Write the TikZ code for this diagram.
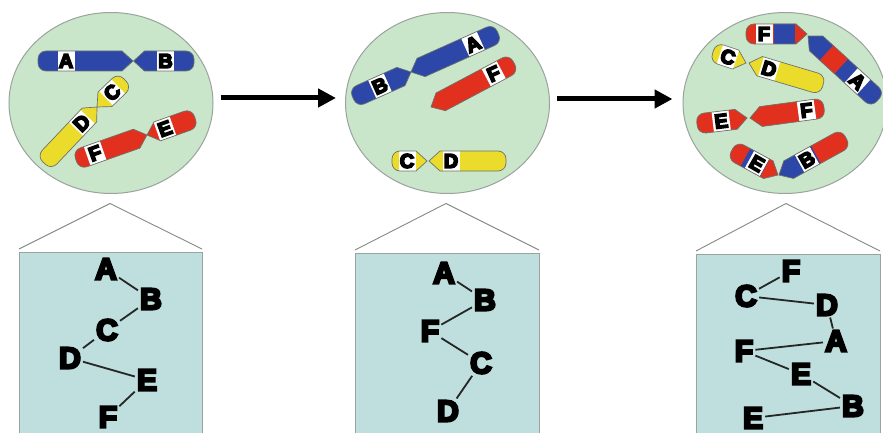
\documentclass[tikz,border=0pt]{standalone}
\usepackage{fontspec}
\usetikzlibrary{shapes.geometric,arrows.meta}
\newfontfamily\heavy[FakeBold=8]{Liberation Sans Bold}
\definecolor{cellgreen}{HTML}{C9E6CB}
\definecolor{panelteal}{HTML}{BEDFDD}
\definecolor{rimgray}{HTML}{9AA39C}
\definecolor{chromblue}{HTML}{2C47A8}
\definecolor{chromred}{HTML}{E2301F}
\definecolor{chromyellow}{HTML}{EBDC2B}
\newcounter{armno}
\tikzset{
  cell/.style={ellipse,draw=rimgray,fill=cellgreen,line width=1pt,minimum width=204pt,minimum height=181pt,inner sep=0pt},
  panel/.style={draw=rimgray,fill=panelteal,line width=1pt},
  roof/.style={draw=rimgray!85!black,line width=.9pt},
  gene/.style={font=\heavy\fontsize{30}{30}\selectfont,text=black,inner sep=2pt},
  link/.style={draw=black!85,line width=1.8pt},
  armlabel/.style={font=\heavy\fontsize{20}{20}\selectfont,text=black,inner sep=0pt},
  moved/.style={-{Triangle[length=18pt,width=18pt]},line width=5pt,black}
}
% One chromosome arm: centromere tip, far end, colour, colour bands,
% distance of the label from the tip, letter, letter rotation.
\def\chromarm(#1,#2)(#3,#4)#5#6#7#8#9{%
  \stepcounter{armno}%
  \pgfmathsetmacro\armang{atan2(-(#4-#2),#3-#1)}%
  \pgfmathsetmacro\armlen{veclen(#3-#1,#4-#2)}%
  \begin{scope}[shift={(#1,#2)},rotate=\armang]
    \def\armoutline{(0,0) -- (11,10) [rounded corners=8pt] -- (\armlen,10) -- (\armlen,-10) [sharp corners] -- (11,-10) -- cycle}
    \fill[#5] \armoutline;
    \begin{scope}
      \clip \armoutline;
      \foreach \sa/\sb/\bandcol in {#6}{\fill[\bandcol] (\sa,-11) rectangle (\sb,11);}
      \fill[white] (#7-8.5,-11) rectangle (#7+8.5,11);
    \end{scope}
    \draw[rimgray!70!black,line width=.7pt] \armoutline;
    \node[armlabel,rotate=#9] (arm\arabic{armno}) at (#7,0) {#8};
  \end{scope}%
}
\begin{document}
\begin{tikzpicture}[x=1pt,y=-1pt]
  \clip (0,0) rectangle (883,433);
  \fill[white] (0,0) rectangle (883,433);

  % Cells
  \node[cell] (c1) at (111,103) {};
  \node[cell] (c2) at (447.5,103) {};
  \node[cell] (c3) at (785,103) {};

  % Arrows between the cells
  \draw[moved] ([xshift=7pt,yshift=5pt]c1.east) -- ([xshift=-9pt,yshift=5pt]c2.west);
  \draw[moved] ([xshift=7pt,yshift=4pt]c2.east) -- ([xshift=-10pt,yshift=4pt]c3.west);

  % First cell
  \chromarm(133,61)(38,61){chromblue}{}{67}{A}{0}
  \chromarm(133.5,61)(194,61){chromblue}{}{32}{B}{0}
  \chromarm(97,107)(125,80){chromyellow}{}{21}{C}{45}
  \chromarm(97,107)(44,163){chromyellow}{}{22}{D}{45}
  \chromarm(147,135)(195,118){chromred}{}{19}{E}{20}
  \chromarm(147,135)(76,160){chromred}{}{55}{F}{20}

  % Second cell
  \chromarm(411,72)(353,98){chromblue}{}{34}{B}{24}
  \chromarm(411,72)(498,33){chromblue}{}{68}{A}{24}
  \chromarm(431,107)(514,63){chromred}{}{71}{F}{24}
  \chromarm(427,161)(392,161){chromyellow}{}{20}{C}{0}
  \chromarm(429,161)(506,161){chromyellow}{}{22}{D}{0}

  % Third cell
  \chromarm(807,34)(746,34){chromred}{0/12/chromred,12/33/chromblue}{43}{F}{0}
  \chromarm(808,36)(878,100){chromblue}{25/45/chromred}{67}{A}{-43}
  \chromarm(746,63)(713,52){chromyellow}{}{19}{C}{-17}
  \chromarm(749,63)(823,85){chromyellow}{}{21}{D}{-17}
  \chromarm(747,118)(697,124){chromred}{}{26}{E}{7}
  \chromarm(750,118)(824,108){chromred}{}{57}{F}{7}
  \chromarm(778,175)(732,150){chromred}{15/37/chromblue}{24}{E}{-30}
  \chromarm(779,175)(846,138){chromred}{0/42/chromblue}{32}{B}{30}

  % Enlarged panels with their roof lines
  \foreach \pl/\pr/\pt/\apx/\n in {19/202/252/110/1,355/539/253/446/2,696/880/254/786/3}{
    \draw[panel] (\pl,440) -- (\pl,\pt) -- (\pr,\pt) -- (\pr,440);
    \coordinate (apex\n) at (\apx,203.5);
    \coordinate (eaveL\n) at (\pl,\pt-3);
    \coordinate (eaveR\n) at (\pr,\pt-3);
    \draw[roof] (eaveL\n) -- (apex\n) -- (eaveR\n);
  }

  % Gene order, first panel
  \node[gene] (pa) at (106,269) {A};
  \node[gene] (pb) at (151,299) {B};
  \node[gene] (pc) at (107,330) {C};
  \node[gene] (pd) at (70,358) {D};
  \node[gene] (pe) at (147,380) {E};
  \node[gene] (pf) at (108,417) {F};
  \draw[link] (pa) -- (pb);
  \draw[link] (pb) -- (pc);
  \draw[link] (pc) -- (pd);
  \draw[link] (pd) -- (pe);
  \draw[link] (pe) -- (pf);

  % Gene order, second panel
  \node[gene] (qa) at (444,273) {A};
  \node[gene] (qb) at (485,300) {B};
  \node[gene] (qf) at (430,331) {F};
  \node[gene] (qc) at (481,363) {C};
  \node[gene] (qd) at (448,411) {D};
  \draw[link] (qa) -- (qb);
  \draw[link] (qb) -- (qf);
  \draw[link] (qf) -- (qc);
  \draw[link] (qc) -- (qd);

  % Gene order, third panel
  \node[gene] (rf) at (791,271) {F};
  \node[gene] (rc) at (746,296) {C};
  \node[gene] (rd) at (827,305) {D};
  \node[gene] (ra) at (836,341) {A};
  \node[gene] (rg) at (744,351) {F};
  \node[gene] (re) at (801,374) {E};
  \node[gene] (rb) at (853,406) {B};
  \node[gene] (rh) at (753,418) {E};
  \draw[link] (rf) -- (rc);
  \draw[link] (rc) -- (rd);
  \draw[link] (rd) -- (ra);
  \draw[link] (ra) -- (rg);
  \draw[link] (rg) -- (re);
  \draw[link] (re) -- (rb);
  \draw[link] (rb) -- (rh);
\end{tikzpicture}
\end{document}
